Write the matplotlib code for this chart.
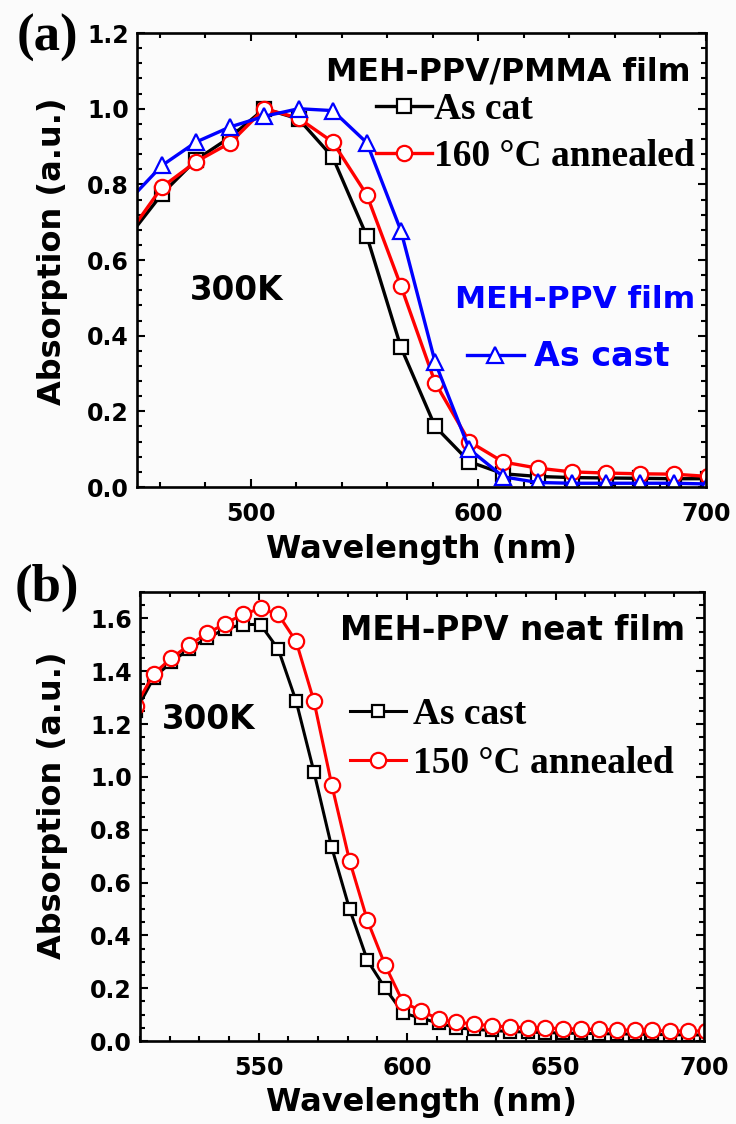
import matplotlib
matplotlib.use('Agg')
import matplotlib.pyplot as plt
from matplotlib.ticker import MultipleLocator, AutoMinorLocator
from matplotlib.font_manager import FontProperties

# (a) MEH-PPV/PMMA blend film and neat MEH-PPV film, 300 K
wl_a = [450, 461, 476, 491, 506, 521, 536, 551, 566, 581, 596, 611, 626,
        641, 656, 671, 686, 701]
blend_cast = [0.69, 0.775, 0.865, 0.925, 1.0, 0.973, 0.872, 0.663, 0.369,
              0.16, 0.067, 0.035, 0.028, 0.025, 0.024, 0.023, 0.022, 0.022]
blend_160 = [0.70, 0.793, 0.86, 0.91, 1.0, 0.975, 0.912, 0.772, 0.531,
             0.276, 0.12, 0.066, 0.05, 0.04, 0.037, 0.035, 0.034, 0.028]
neat_cast_a = [0.78, 0.85, 0.912, 0.952, 0.98, 1.0, 0.995, 0.91, 0.677,
               0.33, 0.10, 0.027, 0.012, 0.01, 0.01, 0.01, 0.01, 0.008]

# (b) MEH-PPV neat film, as cast and annealed at 150 C
wl_b = [508.6, 514.6, 520.6, 526.6, 532.6, 538.6, 544.6, 550.6, 556.6,
        562.6, 568.6, 574.6, 580.6, 586.6, 592.6, 598.6, 604.6, 610.6,
        616.6, 622.6, 628.6, 634.6, 640.6, 646.6, 652.6, 658.6, 664.6,
        670.6, 676.6, 682.6, 688.6, 694.6, 700.6]
neat_cast_b = [1.25, 1.375, 1.435, 1.485, 1.525, 1.56, 1.577, 1.577, 1.483,
               1.287, 1.019, 0.733, 0.50, 0.306, 0.20, 0.106, 0.087, 0.068,
               0.05, 0.044, 0.04, 0.036, 0.034, 0.032, 0.03, 0.029, 0.028,
               0.027, 0.026, 0.025, 0.024, 0.023, 0.023]
neat_150 = [1.27, 1.39, 1.45, 1.50, 1.543, 1.58, 1.615, 1.638, 1.615, 1.513,
            1.287, 0.97, 0.683, 0.457, 0.287, 0.147, 0.115, 0.083, 0.072,
            0.064, 0.058, 0.053, 0.051, 0.049, 0.047, 0.045, 0.044, 0.042,
            0.041, 0.04, 0.038, 0.038, 0.038]

BG = '#fbfbfb'
SANS = 'DejaVu Sans'
SERIF = 'Liberation Serif'
BLUE = '#0000ff'
RED = '#ff0000'


def style_axes(ax, xmaj, xmin_n, ymaj, ymin_n):
    ax.set_facecolor(BG)
    for sp in ax.spines.values():
        sp.set_linewidth(1.9)
    ax.xaxis.set_major_locator(MultipleLocator(xmaj))
    ax.xaxis.set_minor_locator(AutoMinorLocator(xmin_n))
    ax.yaxis.set_major_locator(MultipleLocator(ymaj))
    ax.yaxis.set_minor_locator(AutoMinorLocator(ymin_n))
    ax.tick_params(which='both', direction='in', top=True, right=True,
                   width=1.5)
    ax.tick_params(which='major', length=6)
    ax.tick_params(which='minor', length=3.5)
    ax.tick_params(axis='x', pad=11)
    ax.tick_params(axis='y', pad=6)
    ax.yaxis.set_major_formatter(plt.FormatStrFormatter('%.1f'))
    for lab in ax.get_xticklabels() + ax.get_yticklabels():
        lab.set_fontfamily(SANS)
        lab.set_fontweight('bold')
        lab.set_fontsize(17)
    ax.set_xlabel('Wavelength (nm)', fontfamily=SANS, fontweight='bold',
                  fontsize=23, va='center')
    ax.set_ylabel('Absorption (a.u.)', fontfamily=SANS, fontweight='bold',
                  fontsize=23, va='center')


fig = plt.figure(figsize=(7.36, 11.24), dpi=100, facecolor=BG)

# ---- panel (a)
ax_a = fig.add_axes([0.1861, 0.5667, 0.7731, 0.4039])
mk = range(1, len(wl_a))
l_black, = ax_a.plot(wl_a, blend_cast, color='black', lw=2.4, marker='s',
                     ms=9.5, mfc='white', mew=1.6, markevery=mk)
l_red, = ax_a.plot(wl_a, blend_160, color=RED, lw=2.4, marker='o',
                   ms=11, mfc='white', mew=1.6, markevery=mk)
l_blue, = ax_a.plot(wl_a, neat_cast_a, color=BLUE, lw=2.4, marker='^',
                    ms=11.5, mfc='white', mew=1.6, markevery=mk)
ax_a.set_xlim(450, 700)
ax_a.set_ylim(0, 1.2)
style_axes(ax_a, 100, 5, 0.2, 5)
ax_a.xaxis.set_label_coords(0.5, -0.137)
ax_a.yaxis.set_label_coords(-0.149, 0.52)

ax_a.text(0.972, 0.914, 'MEH-PPV/PMMA film', transform=ax_a.transAxes,
          ha='right', va='center', fontfamily=SANS, fontweight='bold',
          fontsize=22.8)
ax_a.text(0.093, 0.434, '300K', transform=ax_a.transAxes, ha='left',
          va='center', fontfamily=SANS, fontweight='bold', fontsize=23.5)
ax_a.text(0.981, 0.412, 'MEH-PPV film', transform=ax_a.transAxes,
          ha='right', va='center', fontfamily=SANS, fontweight='bold',
          fontsize=22.5, color=BLUE)

leg1 = ax_a.legend([l_black, l_red], ['As cat', '160 °C annealed'],
                   loc='upper left', bbox_to_anchor=(0.42, 0.870),
                   prop=FontProperties(family=SERIF, weight='bold', size=27),
                   frameon=False, handlelength=1.5, handletextpad=0.05,
                   labelspacing=0.31, borderpad=0, borderaxespad=0,
                   numpoints=1)
ax_a.add_artist(leg1)
ax_a.legend([l_blue], ['As cast'], loc='upper left',
            bbox_to_anchor=(0.58, 0.323),
            prop=FontProperties(family=SANS, weight='bold', size=24),
            labelcolor=BLUE, frameon=False, handlelength=1.7,
            handletextpad=0.3, borderpad=0, borderaxespad=0, numpoints=1)

# ---- panel (b)
ax_b = fig.add_axes([0.1902, 0.0738, 0.7663, 0.3995])
k_black, = ax_b.plot(wl_b, neat_cast_b, color='black', lw=2.2, marker='s',
                     ms=9, mfc='white', mew=1.6)
k_red, = ax_b.plot(wl_b, neat_150, color=RED, lw=2.2, marker='o',
                   ms=11, mfc='white', mew=1.6)
ax_b.set_xlim(510, 700)
ax_b.set_ylim(0, 1.7)
style_axes(ax_b, 50, 5, 0.2, 4)
ax_b.xaxis.set_label_coords(0.5, -0.136)
ax_b.yaxis.set_label_coords(-0.156, 0.526)

ax_b.text(0.966, 0.915, 'MEH-PPV neat film', transform=ax_b.transAxes,
          ha='right', va='center', fontfamily=SANS, fontweight='bold',
          fontsize=23.5)
ax_b.text(0.039, 0.715, '300K', transform=ax_b.transAxes, ha='left',
          va='center', fontfamily=SANS, fontweight='bold', fontsize=23.5)
ax_b.legend([k_black, k_red], ['As cast', '150 °C annealed'],
            loc='upper left', bbox_to_anchor=(0.372, 0.767),
            prop=FontProperties(family=SERIF, weight='bold', size=27),
            frameon=False, handlelength=1.5, handletextpad=0.19,
            labelspacing=0.38, borderpad=0, borderaxespad=0, numpoints=1)

# panel tags
fig.text(47 / 736, 1 - 38 / 1124, '(a)', ha='center', va='center',
         fontfamily=SERIF, fontweight='bold', fontsize=38)
fig.text(47 / 736, 1 - 588 / 1124, '(b)', ha='center', va='center',
         fontfamily=SERIF, fontweight='bold', fontsize=38)

fig.savefig('out.png', dpi=100, facecolor=BG)
